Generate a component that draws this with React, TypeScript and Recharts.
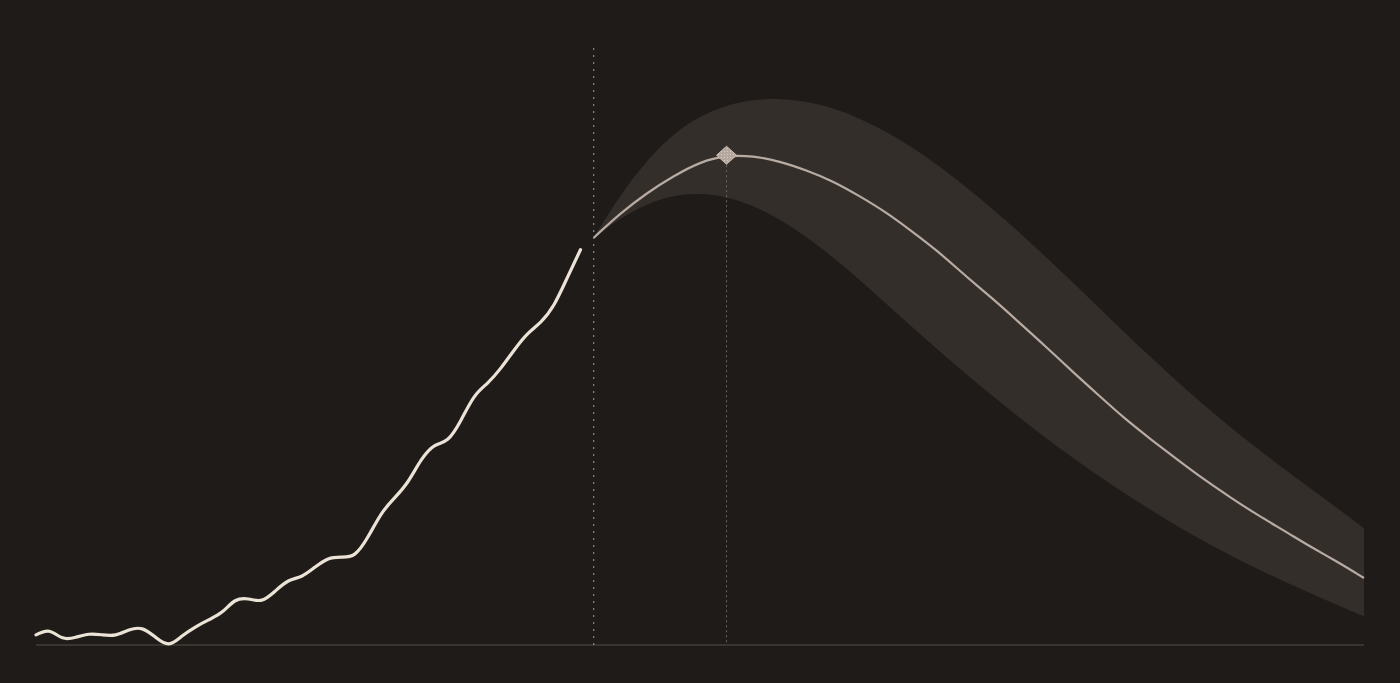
import { ComposedChart, Line, Area, XAxis, YAxis, ReferenceLine, ReferenceDot } from 'recharts';

// observed series, one point per step (0..41)
const historyX: number[] = Array.from({ length: 42 }, (_, i) => i);
const historyValues: number[] = [
  1.7, 2.3, 1.2, 1.3, 1.8, 1.7, 1.7, 2.5, 2.7, 1.3,
  0.2, 1.5, 3.0, 4.2, 5.5, 7.4, 7.7, 7.5, 9.0, 10.7,
  11.5, 13.0, 14.4, 14.7, 15.2, 18.1, 21.9, 24.6, 27.3, 30.9,
  33.3, 34.4, 37.6, 41.5, 43.8, 46.3, 49.3, 52.0, 54.0, 56.9,
  61.4, 66.1,
];

// projection, every 2 steps from 42 to 100
const projectionX: number[] = Array.from({ length: 30 }, (_, i) => 42 + i * 2);
const projectionValues: number[] = [
  68.1, 72.2, 75.6, 78.4, 80.8, 81.9, 81.8, 80.9, 79.4, 77.6,
  75.1, 72.4, 69.1, 65.7, 61.7, 58.0, 54.0, 50.0, 45.8, 41.8,
  37.8, 34.3, 30.9, 27.6, 24.6, 21.7, 19.1, 16.4, 13.9, 11.2,
];
const projectionHigh: number[] = [
  68.1, 75.3, 81.1, 85.5, 88.5, 90.3, 91.2, 91.4, 90.9, 89.8,
  88.1, 85.9, 83.2, 80.1, 76.7, 73.0, 69.1, 65.0, 60.8, 56.5,
  52.2, 48.0, 43.9, 40.0, 36.3, 32.8, 29.4, 26.1, 22.9, 19.5,
];
const projectionLow: number[] = [
  68.1, 71.4, 73.8, 75.2, 75.6, 75.0, 73.5, 71.2, 68.3, 64.9,
  61.1, 57.1, 53.1, 49.2, 45.4, 41.7, 38.1, 34.7, 31.4, 28.3,
  25.3, 22.5, 19.8, 17.3, 14.9, 12.7, 10.6, 8.6, 6.7, 4.8,
];

const forecastStart = 42;
const peakX = 52;
const peakValue = 81.9;

type Row = { x: number; hist?: number; proj?: number; band?: [number, number] };

const rows: Row[] = [
  ...historyX.map((x, i) => ({ x, hist: historyValues[i] })),
  ...projectionX.map((x, i) => ({
    x,
    proj: projectionValues[i],
    band: [projectionLow[i], projectionHigh[i]] as [number, number],
  })),
];

const Diamond = (props: any) => {
  const { cx, cy } = props;
  if (cx == null || cy == null) return null;
  return (
    <polygon
      points={`${cx},${cy - 9} ${cx + 10},${cy} ${cx},${cy + 9} ${cx - 10},${cy}`}
      fill="url(#peakDots)"
      stroke="#c9bdb4"
      strokeWidth={1}
    />
  );
};

export default function App() {
  return (
    <div style={{ position: 'absolute', left: 0, top: 0, width: 1400, height: 683, background: '#1f1b18' }}>
      <ComposedChart width={1400} height={683} data={rows} margin={{ top: 47, right: 36, bottom: 38, left: 36 }}>
        <defs>
          <pattern id="peakDots" width="3" height="3" patternUnits="userSpaceOnUse">
            <rect width="3" height="3" fill="#b3a79e" />
            <circle cx="1.5" cy="1.5" r="0.6" fill="#ddd3ca" />
          </pattern>
        </defs>
        <XAxis dataKey="x" type="number" domain={[0, 100]} hide />
        <YAxis type="number" domain={[0, 100]} hide />
        <Area
          dataKey="band"
          type="basis"
          stroke="none"
          fill="#342e2b"
          fillOpacity={1}
          isAnimationActive={false}
          activeDot={false}
        />
        <ReferenceLine y={0} stroke="#3a3431" strokeWidth={2} />
        <ReferenceLine x={forecastStart} stroke="#a9a098" strokeWidth={1} strokeDasharray="2 5" />
        <ReferenceLine
          segment={[{ x: peakX, y: peakValue }, { x: peakX, y: 0 }]}
          stroke="#6e655f"
          strokeWidth={1}
          strokeDasharray="2 3"
        />
        <Line
          dataKey="hist"
          type="natural"
          stroke="#ece3d7"
          strokeWidth={3.2}
          strokeLinecap="round"
          dot={false}
          activeDot={false}
          isAnimationActive={false}
        />
        <Line
          dataKey="proj"
          type="basis"
          stroke="#b8aba2"
          strokeWidth={2.2}
          dot={false}
          activeDot={false}
          isAnimationActive={false}
        />
        <ReferenceDot x={peakX} y={peakValue} shape={Diamond} />
      </ComposedChart>
    </div>
  );
}
